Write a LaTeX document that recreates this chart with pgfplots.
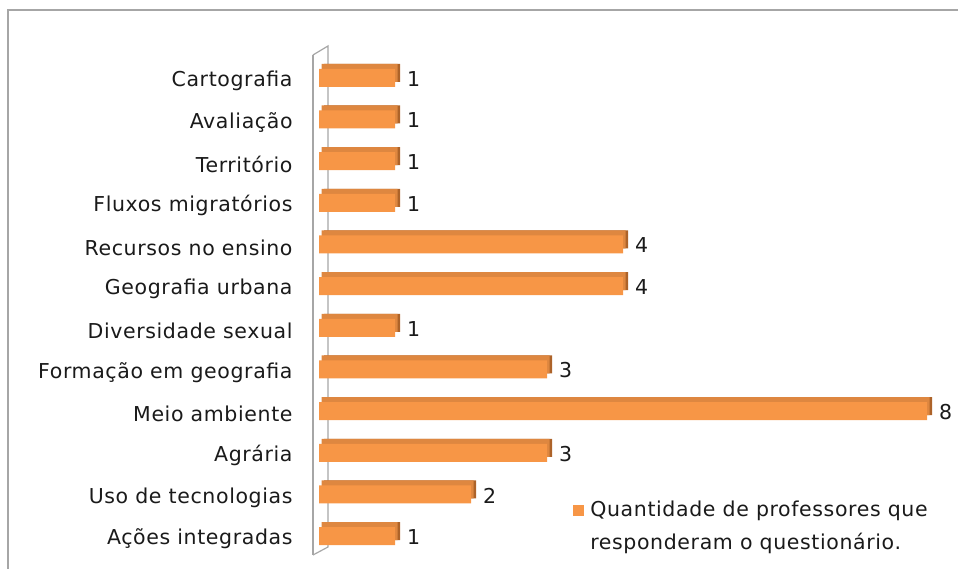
\documentclass[border=0pt]{standalone}
\usepackage{pgfplots}
\pgfplotsset{compat=1.18}
\usepackage{fontspec}
\setmainfont[LetterSpace=3]{DejaVu Sans}
\definecolor{barfront}{HTML}{F79646}
\definecolor{bartop}{HTML}{DE8740}
\definecolor{barside}{HTML}{AD6329}
\definecolor{framegray}{HTML}{A6A6A6}
\definecolor{txt}{HTML}{1A1A1A}
\newcommand{\lblfont}{\fontsize{20.5}{33}\selectfont}
\begin{document}
\begin{tikzpicture}
\useasboundingbox (0pt,0pt) rectangle (958pt,569pt);
% chart frame
\draw[framegray,line width=2pt] (8pt,0pt) -- (8pt,559pt) -- (958pt,559pt);
% 3d wall behind the bars
\draw[framegray,line width=2.4pt] (313pt,14pt) -- (313pt,514pt);
\draw[framegray,line width=1.2pt] (313pt,514pt) -- (328pt,523pt) -- (328pt,22pt) -- (313pt,14pt);
\begin{axis}[
  at={(319pt,12pt)}, anchor=south west,
  scale only axis, width=608pt, height=500pt,
  xbar, bar width=18pt,
  xmin=0, xmax=8, ymin=-0.5, ymax=11.5,
  axis line style={draw=none}, tick style={draw=none},
  xtick=\empty, ytick={0,...,11},
  yticklabels={Ações integradas, Uso de tecnologias, Agrária, Meio ambiente,
    Formação em geografia, Diversidade sexual, Geografia urbana,
    Recursos no ensino, Fluxos migratórios, Território, Avaliação, Cartografia},
  yticklabel style={font=\lblfont, text=txt, inner sep=0pt, xshift=-22pt, yshift=-3pt},
  /pgf/number format/assume math mode=true,
  legend style={draw=none, fill=none, at={(0.418,0.117)}, anchor=north west,
    font=\lblfont, text=txt, inner sep=0pt, column sep=4pt},
  legend cell align=left,
  every axis plot post/.append style={
    legend image code/.code={\fill[barfront] (0pt,-7pt) rectangle (11pt,4pt);}},
  clip=false
]
% right side face
\addplot[draw=none, fill=barside, xshift=5pt, yshift=5pt, forget plot] coordinates {
  (1,0) (2,1) (3,2) (8,3) (3,4) (1,5) (4,6) (4,7) (1,8) (1,9) (1,10) (1,11)};
% top face
\addplot[draw=none, fill=bartop, xshift=2.5pt, yshift=5pt, forget plot] coordinates {
  (1,0) (2,1) (3,2) (8,3) (3,4) (1,5) (4,6) (4,7) (1,8) (1,9) (1,10) (1,11)};
% front face
\addplot[draw=none, fill=barfront,
  nodes near coords,
  every node near coord/.append style={font=\lblfont, inner sep=0pt, anchor=west, xshift=12pt, yshift=-1pt, text=txt}]
  coordinates {
  (1,0) (2,1) (3,2) (8,3) (3,4) (1,5) (4,6) (4,7) (1,8) (1,9) (1,10) (1,11)};
\addlegendentry{\parbox[t]{380pt}{Quantidade de professores que\\responderam o questionário.}}
\end{axis}
\end{tikzpicture}
\end{document}
